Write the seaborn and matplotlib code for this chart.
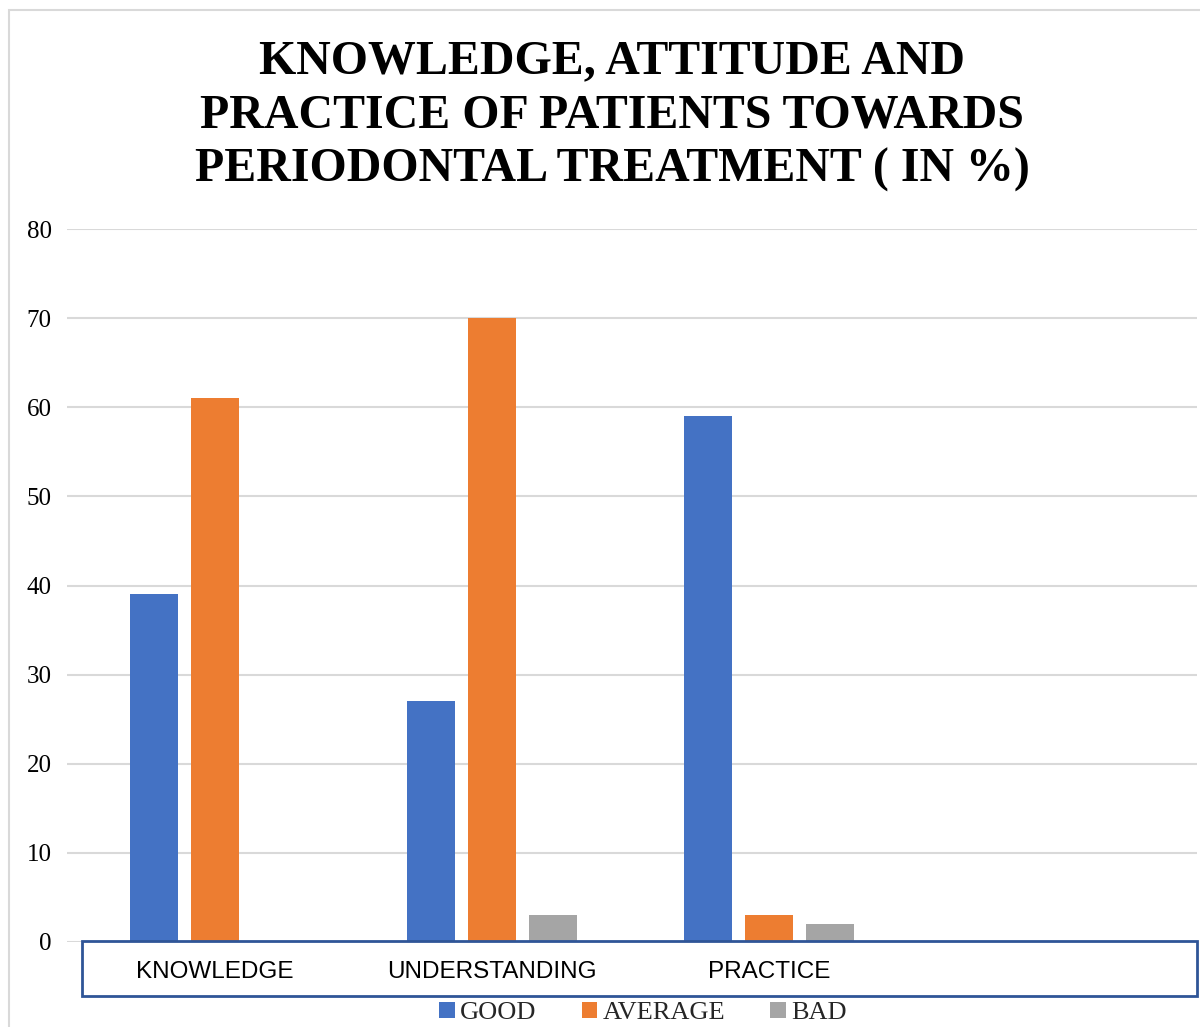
import matplotlib
matplotlib.use("Agg")
import matplotlib.pyplot as plt
import seaborn as sns
import pandas as pd
from matplotlib.patches import Rectangle, Patch

categories = ["KNOWLEDGE", "UNDERSTANDING", "PRACTICE"]
series = ["GOOD", "AVERAGE", "BAD"]
good = [39, 27, 59]
average = [61, 70, 3]
bad = [0, 3, 2]
yticks = [0, 10, 20, 30, 40, 50, 60, 70, 80]
colors = ["#4472C4", "#ED7D31", "#A5A5A5"]
title = "KNOWLEDGE, ATTITUDE AND\nPRACTICE OF PATIENTS TOWARDS\nPERIODONTAL TREATMENT ( IN %)"

rows = []
for s, vals in zip(series, [good, average, bad]):
    for c, v in zip(categories, vals):
        rows.append({"cat": c, "series": s, "value": v})
df = pd.DataFrame(rows)

sns.set_theme(style="white")
plt.rcParams["font.family"] = ["Liberation Serif", "DejaVu Serif"]

W, H = 1200, 1027
fig = plt.figure(figsize=(12, 10.27), dpi=100)
left, right = 67 / W, 1197 / W
top, bottom = (H - 229) / H, (H - 942) / H
ax = fig.add_axes([left, bottom, right - left, top - bottom])

sns.barplot(data=df, x="cat", y="value", hue="series", order=categories,
            hue_order=series, palette=colors, width=0.661, gap=0.213,
            saturation=1, ax=ax, legend=False, linewidth=0)

ax.set_ylim(0, 80)
ax.set_yticks(yticks)
ax.set_xlim(-0.534, 3.545)
ax.yaxis.grid(True, color="#D9D9D9", linewidth=1.5)
ax.set_axisbelow(True)
for sp in ax.spines.values():
    sp.set_visible(False)
ax.set_xlabel("")
ax.set_ylabel("")
ax.tick_params(axis="y", length=0, pad=11, labelsize=18, labelcolor="#000000")
ax.tick_params(axis="x", length=0, pad=14)
for lab in ax.get_xticklabels():
    lab.set_fontfamily(["Liberation Sans", "DejaVu Sans"])
    lab.set_fontsize(17.5)
    lab.set_color("#000000")

# box around category labels
fig.patches.append(Rectangle((82 / W, (H - 996) / H), (1197 - 82) / W, (996 - 941) / H,
                             transform=fig.transFigure, fill=False,
                             edgecolor="#2F5597", linewidth=2, zorder=5))
# outer frame
fig.patches.append(Rectangle((9 / W, -0.01), 1.0, (H - 10) / H + 0.01,
                             transform=fig.transFigure, fill=False,
                             edgecolor="#D9D9D9", linewidth=1.5, zorder=0))

fig.text(612 / W, (H - 116) / H, title, ha="center", va="center",
         fontsize=34.5, fontweight="bold", linespacing=1.3, color="#000000")

handles = [Patch(facecolor=c, edgecolor="none") for c in colors]
fig.legend(handles, series, loc="center", bbox_to_anchor=(643 / W, (H - 1013) / H),
           ncol=3, frameon=False, fontsize=19, handlelength=0.6, handleheight=0.6,
           handletextpad=0.2, columnspacing=1.7, borderaxespad=0)

fig.savefig("out.png", dpi=100)
